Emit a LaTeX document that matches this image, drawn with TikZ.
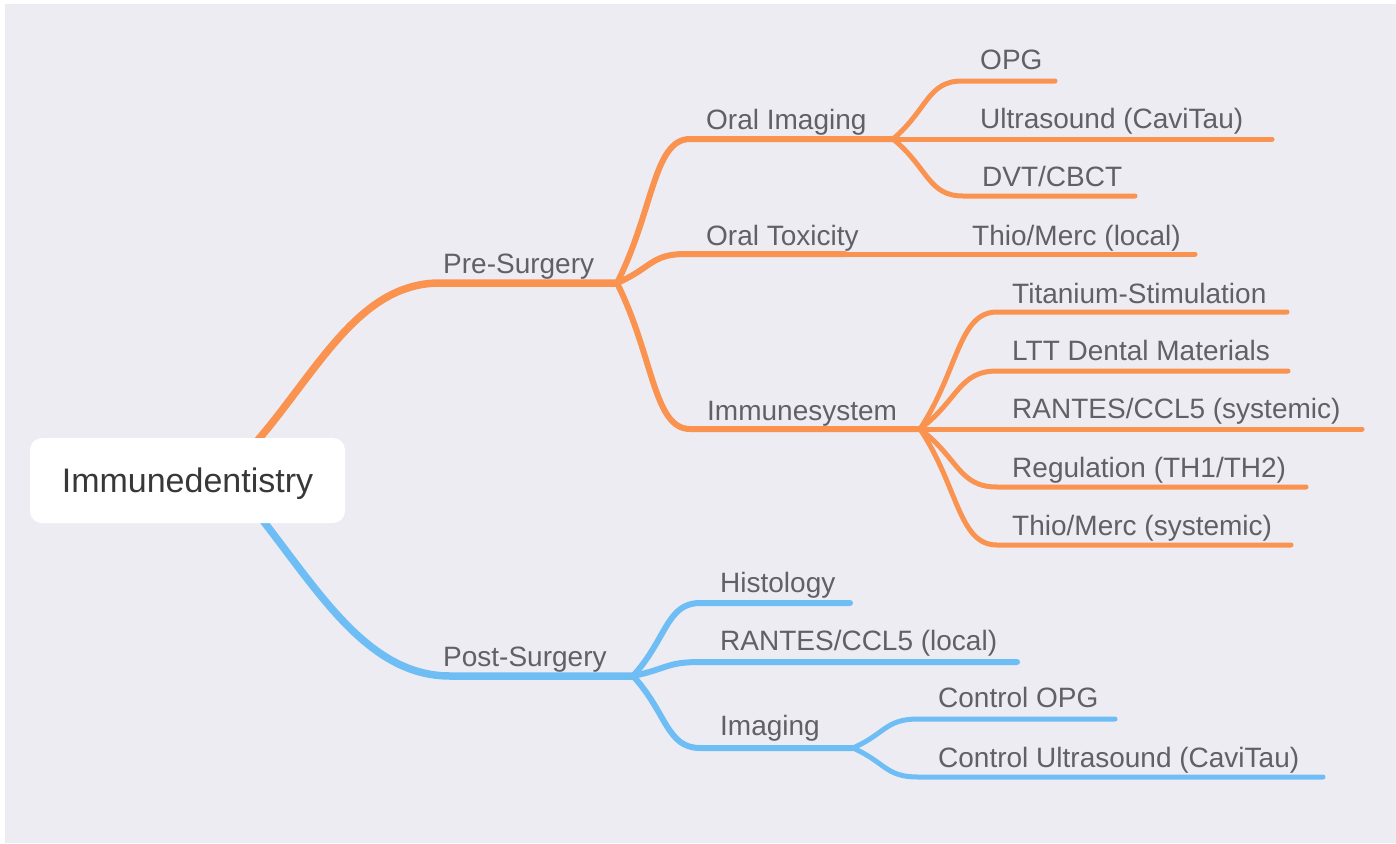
\documentclass[tikz,border=0pt]{standalone}
\usepackage{fontspec}
\setmainfont{Liberation Sans}
\usetikzlibrary{calc}
\definecolor{bgc}{HTML}{EDECF3}
\definecolor{orn}{HTML}{FA9250}
\definecolor{sky}{HTML}{6EBEF5}
\definecolor{txt}{HTML}{606066}
\definecolor{roottxt}{HTML}{383838}
\begin{document}
\begin{tikzpicture}[x=1pt,y=-1pt,
  lbl/.style={anchor=base west, inner sep=0pt, text=txt, font=\fontsize{28}{30}\selectfont},
  br/.style={to path={let \p1=(\tikztostart), \p2=(\tikztotarget) in
     .. controls ({\x1+0.5*(\x2-\x1)},{\y1+0.5*(\y2-\y1)}) and ({\x1+0.5*(\x2-\x1)},\y2) .. (\tikztotarget)}},
  lvA/.style={line width=7.5pt, line cap=round},
  lvB/.style={line width=6pt, line cap=round},
  lvC/.style={line width=5pt, line cap=round},
  rootbox/.style={fill=white, rounded corners=12pt, minimum width=315pt, minimum height=85pt,
     inner sep=0pt, text height=23pt, text depth=0pt, text=roottxt, font=\fontsize{34}{36}\selectfont}
]
\useasboundingbox (0,0) rectangle (1396,843);
\fill[white] (0,0) rectangle (1396,843);
\fill[bgc] (5,4) rectangle (1396,843);

% coordinates
\coordinate (o0) at (235,465);
\coordinate (o1) at (440,283);
\coordinate (jPre) at (617,283);
\coordinate (b0) at (240,492);
\coordinate (b1) at (450,676);
\coordinate (jPost) at (633,676);

\coordinate (oiS) at (690,139);
\coordinate (jOI) at (893,139);
\coordinate (otS) at (685,254);
\coordinate (jOT) at (845,254);
\coordinate (tmlE) at (1195,254);
\coordinate (imS) at (690,429);
\coordinate (jIM) at (920,429);

\coordinate (opgS) at (962,81);
\coordinate (opgE) at (1055,81);
\coordinate (usE) at (1272,139);
\coordinate (dvtS) at (963,196);
\coordinate (dvtE) at (1135,196);

\coordinate (tiS) at (997,312);
\coordinate (tiE) at (1287,312);
\coordinate (ltS) at (997,371);
\coordinate (ltE) at (1288,371);
\coordinate (raE) at (1362,429);
\coordinate (reS) at (997,487);
\coordinate (reE) at (1306,487);
\coordinate (thS) at (997,545);
\coordinate (thE) at (1291,545);

\coordinate (hiS) at (700,603);
\coordinate (hiE) at (850,603);
\coordinate (rlS) at (700,662);
\coordinate (rlE) at (1017,662);
\coordinate (imgS) at (700,748);
\coordinate (jIMG) at (853,748);
\coordinate (coS) at (918,719);
\coordinate (coE) at (1115,719);
\coordinate (cuS) at (918,777);
\coordinate (cuE) at (1323,777);

% orange branches
\draw[orn, lvA] (o0) .. controls +(75,-75) and +(-90,0) .. (o1) -- (jPre);
\draw[orn, lvB] (jPre) to[br] (oiS) -- (jOI);
\draw[orn, lvB] (jPre) to[br] (otS) -- (jOT);
\draw[orn, lvC] (jOT) -- (tmlE);
\draw[orn, lvB] (jPre) to[br] (imS) -- (jIM);
\draw[orn, lvC] (jOI) to[br] (opgS) -- (opgE);
\draw[orn, lvC] (jOI) -- (usE);
\draw[orn, lvC] (jOI) to[br] (dvtS) -- (dvtE);
\draw[orn, lvC] (jIM) to[br] (tiS) -- (tiE);
\draw[orn, lvC] (jIM) to[br] (ltS) -- (ltE);
\draw[orn, lvC] (jIM) -- (raE);
\draw[orn, lvC] (jIM) to[br] (reS) -- (reE);
\draw[orn, lvC] (jIM) to[br] (thS) -- (thE);

% blue branches
\draw[sky, lvA] (b0) .. controls +(70,83) and +(-90,0) .. (b1) -- (jPost);
\draw[sky, lvB] (jPost) to[br] (hiS) -- (hiE);
\draw[sky, lvB] (jPost) to[br] (rlS) -- (rlE);
\draw[sky, lvB] (jPost) to[br] (imgS) -- (jIMG);
\draw[sky, lvC] (jIMG) to[br] (coS) -- (coE);
\draw[sky, lvC] (jIMG) to[br] (cuS) -- (cuE);

% root
\node[rootbox] (root) at (187.5,480.5) {Immunedentistry};

% labels
\node[lbl] (pre) at (443,273) {Pre-Surgery};
\node[lbl] (post) at (443,666) {Post-Surgery};
\node[lbl] (oi) at (706,129) {Oral Imaging};
\node[lbl] (ot) at (706,245) {Oral Toxicity};
\node[lbl] (im) at (707,420) {Immunesystem};
\node[lbl] (opg) at (980,70) {OPG};
\node[lbl] (us) at (980,128) {Ultrasound (CaviTau)};
\node[lbl] (dvt) at (982,186) {DVT/CBCT};
\node[lbl] (tml) at (972,245) {Thio/Merc (local)};
\node[lbl] (ti) at (1012,303) {Titanium-Stimulation};
\node[lbl] (lt) at (1012,360) {LTT Dental Materials};
\node[lbl] (ra) at (1012,418) {RANTES/CCL5 (systemic)};
\node[lbl] (re) at (1012,477) {Regulation (TH1/TH2)};
\node[lbl] (th) at (1012,535) {Thio/Merc (systemic)};
\node[lbl] (hi) at (720,592) {Histology};
\node[lbl] (rl) at (720,650) {RANTES/CCL5 (local)};
\node[lbl] (img) at (720,735) {Imaging};
\node[lbl] (co) at (938,707) {Control OPG};
\node[lbl] (cu) at (938,767) {Control Ultrasound (CaviTau)};
\end{tikzpicture}
\end{document}
